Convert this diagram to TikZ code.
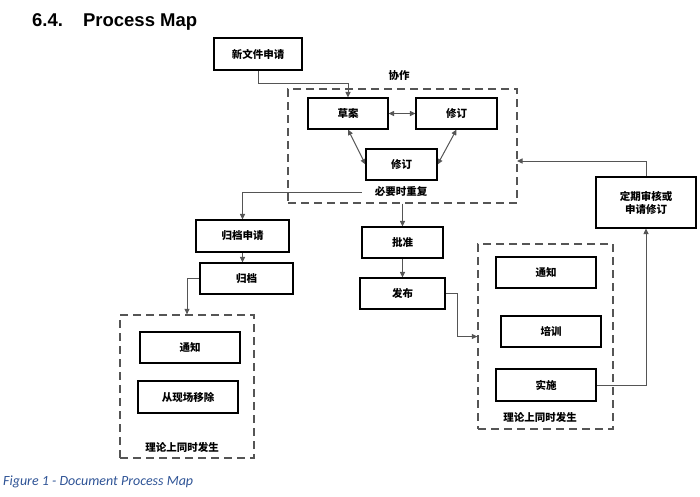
\documentclass[tikz,border=0pt]{standalone}
\usepackage{fontspec}
\setmainfont{Liberation Sans}
\newfontfamily\cjk{Noto Sans CJK SC}
\newfontfamily\capfont{Carlito}
\usetikzlibrary{arrows.meta}
\pgfdeclarelayer{bg}
\pgfsetlayers{bg,main}
\definecolor{linegray}{HTML}{555555}
\definecolor{capblue}{HTML}{2F5496}

\begin{document}
\begin{tikzpicture}[x=1pt, y=-1pt,
        box/.style={draw, line width=1.1pt, inner sep=0pt, align=center,
                font=\cjk\bfseries\fontsize{10.5}{13}\selectfont},
        group/.style={draw=linegray, line width=1.3pt, dash pattern=on 8pt off 5pt, inner sep=0pt},
        txt/.style={font=\cjk\bfseries\fontsize{10.5}{13}\selectfont, inner sep=1pt},
        link/.style={draw=linegray, line width=1pt},
        arr/.style={link, -{Triangle[length=5.5pt,width=5pt]}},
        dbl/.style={link, {Triangle[length=5.5pt,width=5pt]}-{Triangle[length=5.5pt,width=5pt]}}]
        \useasboundingbox (0,0) rectangle (700,496);
        \node (title) [anchor=base west, inner sep=0pt, font=\bfseries\fontsize{18.5}{22}\selectfont] at (32,26) {6.4.\hskip 20pt Process Map};
        \node (cap) [anchor=base west, inner sep=0pt, text=capblue, font=\capfont\itshape\fontsize{14}{17}\selectfont] at (3,485) {Figure 1 - Document Process Map};
        \node (new) [box, minimum width=88pt, minimum height=32pt] at (258,54) {新文件申请};
        \node (collab) [group, minimum width=229pt, minimum height=114pt] at (402.5,146) {};
        \node (collabtxt) [txt] at (399,76) {协作};
        \node (draft) [box, minimum width=80pt, minimum height=31pt] at (348,113.5) {草案};
        \node (rev1) [box, minimum width=81pt, minimum height=31pt] at (456.5,113.5) {修订};
        \node (rev2) [box, minimum width=71pt, minimum height=31pt] at (401.5,164.5) {修订};
        \node (rep) [txt, inner xsep=13pt] at (401,192) {必要时重复};
        \node (arcreq) [box, minimum width=93pt, minimum height=32pt] at (242.5,236) {归档申请};
        \node (archive) [box, minimum width=93pt, minimum height=31pt] at (246.5,278.5) {归档};
        \node (leftgrp) [group, minimum width=134pt, minimum height=143pt] at (187,386.5) {};
        \node (notify1) [box, minimum width=100pt, minimum height=31pt] at (190,347.5) {通知};
        \node (remove) [box, minimum width=100pt, minimum height=32pt] at (188,397) {从现场移除};
        \node (lefttxt) [txt] at (182,447) {理论上同时发生};
        \node (approve) [box, minimum width=81pt, minimum height=31pt] at (402.5,242.5) {批准};
        \node (publish) [box, minimum width=85pt, minimum height=31pt] at (402.5,293.5) {发布};
        \node (rightgrp) [group, minimum width=135pt, minimum height=185pt] at (545.5,336.5) {};
        \node (notify2) [box, minimum width=100pt, minimum height=31pt] at (546,272.5) {通知};
        \node (train) [box, minimum width=100pt, minimum height=31pt] at (551,331.5) {培训};
        \node (impl) [box, minimum width=100pt, minimum height=32pt] at (546,385) {实施};
        \node (righttxt) [txt] at (540,417) {理论上同时发生};
        \node (review) [box, minimum width=100pt, minimum height=51pt] at (646,202.5) {定期审核或\\申请修订};
        \coordinate (back) at (517,161);
        \begin{pgfonlayer}{bg}
                \draw [arr] (new.south) |- ([yshift=14pt]draft.north) -- (draft.north);
                \draw [dbl] (draft.east) -- (rev1.west);
                \draw [dbl] (draft.south) -- (rev2.west);
                \draw [dbl] (rev1.south) -- (rev2.east);
                \draw [arr] (rep.west) -| (arcreq.north);
                \draw [arr] (collab.south) -- (approve.north);
                \draw [arr] (arcreq.south) -- (arcreq.south |- archive.north);
                \draw [arr] (archive.west) -| (leftgrp.north);
                \draw [arr] (approve.south) -- (publish.north);
                \draw [arr] (publish.east) -- ++(12,0) |- (rightgrp.west);
                \draw [arr] (impl.east) -| (review.south);
                \draw [arr] (review.north) |- (back);
        \end{pgfonlayer}
\end{tikzpicture}
\end{document}
